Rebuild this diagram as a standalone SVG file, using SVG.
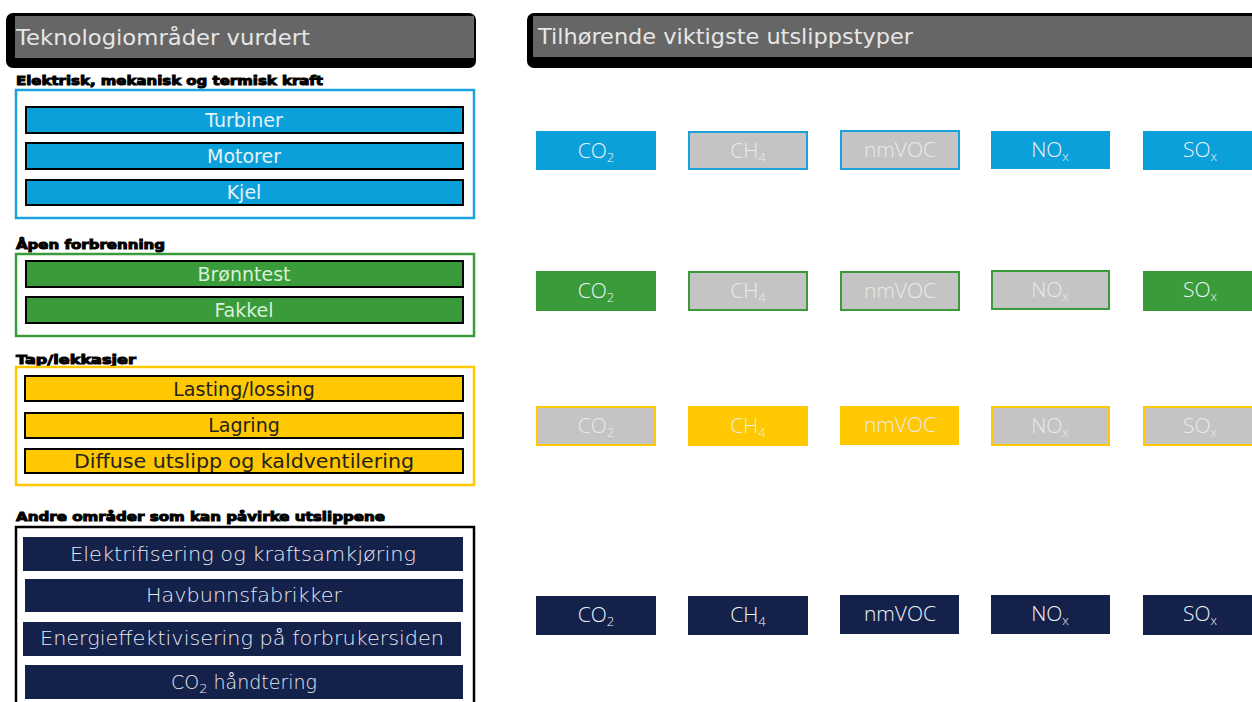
<svg xmlns="http://www.w3.org/2000/svg" width="1252" height="702" viewBox="0 0 1252 702">
<style>
.title{font-family:"DejaVu Sans",Verdana,sans-serif;font-size:22px;fill:#e6e6e6}
.head{font-family:"DejaVu Sans",Verdana,sans-serif;font-size:13px;font-weight:bold;fill:#000;stroke:#000;stroke-width:1}
.bar{stroke:#000;stroke-width:2}
.bt{font-family:"DejaVu Sans",Verdana,sans-serif;font-size:19px;text-anchor:middle}
.nt{font-family:"DejaVu Sans",Verdana,sans-serif;font-size:19px;text-anchor:middle;fill:#e8eaf0;font-weight:200}
.et{font-family:"Open Sans","DejaVu Sans",sans-serif;font-size:21px;text-anchor:middle;fill:#eef4f8;font-weight:300}
.eg{fill:#eaeaea}
.sub{font-size:13px}
.blue{fill:#0BA0D9}
.green{fill:#3A9B3A}
.yel{fill:#FFC800}
.navy{fill:#14214B}
.gray{fill:#C4C4C4}
</style>
<defs></defs>

<g id="title-left">
<rect x="6" y="13" width="470" height="55" rx="7" fill="#000"/>
<rect x="15" y="16" width="459" height="42" fill="#666"/>
<text class="title" x="16" y="45" textLength="294" lengthAdjust="spacingAndGlyphs">Teknologiområder vurdert</text>
</g>
<g id="title-right">
<rect x="527" y="13" width="740" height="55" rx="7" fill="#000"/>
<rect x="533" y="16" width="730" height="41" fill="#666"/>
<text class="title" x="538" y="44" textLength="375" lengthAdjust="spacingAndGlyphs">Tilhørende viktigste utslippstyper</text>
</g>

<g id="group-elektrisk">
<text class="head" x="16" y="85" textLength="307" lengthAdjust="spacingAndGlyphs">Elektrisk, mekanisk og termisk kraft</text>
<rect x="16" y="90" width="458" height="128" fill="none" stroke="#1BA1DB" stroke-width="2.5"/>
</g>
<g id="turbiner"><rect class="bar blue" x="26" y="107" width="437" height="26"/><text class="bt" x="244" y="127" fill="#e4f3fa">Turbiner</text></g>
<g id="motorer"><rect class="bar blue" x="26" y="143" width="437" height="26"/><text class="bt" x="244" y="163" fill="#e4f3fa">Motorer</text></g>
<g id="kjel"><rect class="bar blue" x="26" y="180" width="437" height="25"/><text class="bt" x="244" y="199" fill="#e4f3fa">Kjel</text></g>

<g id="group-apen">
<text class="head" x="16" y="249" textLength="149" lengthAdjust="spacingAndGlyphs">Åpen forbrenning</text>
<rect x="16" y="254" width="458" height="82" fill="none" stroke="#3A9B3A" stroke-width="2.5"/>
</g>
<g id="bronntest"><rect class="bar green" x="26" y="261" width="437" height="26"/><text class="bt" x="244" y="281" fill="#d8f0d8">Brønntest</text></g>
<g id="fakkel"><rect class="bar green" x="26" y="297" width="437" height="26"/><text class="bt" x="244" y="317" fill="#d8f0d8">Fakkel</text></g>

<g id="group-tap">
<text class="head" x="16" y="364" textLength="120" lengthAdjust="spacingAndGlyphs">Tap/lekkasjer</text>
<rect x="16" y="367" width="458" height="118" fill="none" stroke="#FFC800" stroke-width="2.5"/>
</g>
<g id="lasting"><rect class="bar yel" x="25" y="376" width="438" height="25"/><text class="bt" x="244" y="396" fill="#222">Lasting/lossing</text></g>
<g id="lagring"><rect class="bar yel" x="25" y="413" width="438" height="25"/><text class="bt" x="244" y="432" fill="#222">Lagring</text></g>
<g id="diffuse"><rect class="bar yel" x="25" y="449" width="438" height="24"/><text class="bt" x="244" y="468" fill="#222" textLength="340" lengthAdjust="spacingAndGlyphs">Diffuse utslipp og kaldventilering</text></g>

<g id="group-andre">
<text class="head" x="16" y="521" textLength="369" lengthAdjust="spacingAndGlyphs">Andre områder som kan påvirke utslippene</text>
<rect x="16" y="527" width="458" height="190" fill="none" stroke="#000" stroke-width="2.5"/>
</g>
<g id="elektrifisering"><rect class="navy" x="23" y="537" width="440" height="34"/><text class="nt" x="243" y="561" textLength="346" lengthAdjust="spacingAndGlyphs">Elektrifisering og kraftsamkjøring</text></g>
<g id="havbunn"><rect class="navy" x="25" y="579" width="438" height="33"/><text class="nt" x="244" y="602" textLength="196" lengthAdjust="spacingAndGlyphs">Havbunnsfabrikker</text></g>
<g id="energi"><rect class="navy" x="23" y="622" width="438" height="34"/><text class="nt" x="242" y="645" textLength="404" lengthAdjust="spacingAndGlyphs">Energieffektivisering på forbrukersiden</text></g>
<g id="co2h"><rect class="navy" x="25" y="665" width="438" height="34"/><text class="nt" x="244" y="689">CO<tspan class="sub" dy="4">2</tspan><tspan dy="-4"> håndtering</tspan></text></g>

<!-- Row 1 : blue -->
<g id="r1-co2"><rect class="blue" x="536" y="131" width="120" height="39"/><text class="et" x="596" y="158">CO<tspan class="sub" dy="4">2</tspan></text></g>
<g id="r1-ch4"><rect class="gray" x="689" y="132" width="118" height="37" stroke="#1BA1DB" stroke-width="2"/><text class="et eg" x="748" y="158">CH<tspan class="sub" dy="4">4</tspan></text></g>
<g id="r1-nmvoc"><rect class="gray" x="841" y="131" width="118" height="38" stroke="#1BA1DB" stroke-width="2"/><text class="et eg" x="900" y="157">nmVOC</text></g>
<g id="r1-nox"><rect class="blue" x="991" y="131" width="119" height="38"/><text class="et" x="1050" y="157">NO<tspan class="sub" dy="4">x</tspan></text></g>
<g id="r1-sox"><rect class="blue" x="1143" y="131" width="120" height="39"/><text class="et" x="1200" y="157">SO<tspan class="sub" dy="4">x</tspan></text></g>

<!-- Row 2 : green -->
<g id="r2-co2"><rect class="green" x="536" y="271" width="120" height="40"/><text class="et" x="596" y="298">CO<tspan class="sub" dy="4">2</tspan></text></g>
<g id="r2-ch4"><rect class="gray" x="689" y="272" width="118" height="38" stroke="#3A9B3A" stroke-width="2"/><text class="et eg" x="748" y="298">CH<tspan class="sub" dy="4">4</tspan></text></g>
<g id="r2-nmvoc"><rect class="gray" x="841" y="272" width="118" height="38" stroke="#3A9B3A" stroke-width="2"/><text class="et eg" x="900" y="298">nmVOC</text></g>
<g id="r2-nox"><rect class="gray" x="992" y="271" width="117" height="38" stroke="#3A9B3A" stroke-width="2"/><text class="et eg" x="1050" y="297">NO<tspan class="sub" dy="4">x</tspan></text></g>
<g id="r2-sox"><rect class="green" x="1143" y="271" width="120" height="40"/><text class="et" x="1200" y="297">SO<tspan class="sub" dy="4">x</tspan></text></g>

<!-- Row 3 : yellow -->
<g id="r3-co2"><rect class="gray" x="537" y="407" width="118" height="38" stroke="#FFC800" stroke-width="2"/><text class="et eg" x="596" y="433">CO<tspan class="sub" dy="4">2</tspan></text></g>
<g id="r3-ch4"><rect class="yel" x="688" y="406" width="120" height="40"/><text class="et eg" x="748" y="433">CH<tspan class="sub" dy="4">4</tspan></text></g>
<g id="r3-nmvoc"><rect class="yel" x="840" y="406" width="119" height="39"/><text class="et eg" x="900" y="432">nmVOC</text></g>
<g id="r3-nox"><rect class="gray" x="992" y="407" width="117" height="38" stroke="#FFC800" stroke-width="2"/><text class="et eg" x="1050" y="433">NO<tspan class="sub" dy="4">x</tspan></text></g>
<g id="r3-sox"><rect class="gray" x="1144" y="407" width="118" height="38" stroke="#FFC800" stroke-width="2"/><text class="et eg" x="1200" y="433">SO<tspan class="sub" dy="4">x</tspan></text></g>

<!-- Row 4 : navy -->
<g id="r4-co2"><rect class="navy" x="536" y="596" width="120" height="39"/><text class="et" x="596" y="622">CO<tspan class="sub" dy="4">2</tspan></text></g>
<g id="r4-ch4"><rect class="navy" x="688" y="596" width="120" height="39"/><text class="et" x="748" y="622">CH<tspan class="sub" dy="4">4</tspan></text></g>
<g id="r4-nmvoc"><rect class="navy" x="840" y="595" width="119" height="39"/><text class="et" x="900" y="621">nmVOC</text></g>
<g id="r4-nox"><rect class="navy" x="991" y="595" width="119" height="39"/><text class="et" x="1050" y="621">NO<tspan class="sub" dy="4">x</tspan></text></g>
<g id="r4-sox"><rect class="navy" x="1143" y="595" width="120" height="40"/><text class="et" x="1200" y="621">SO<tspan class="sub" dy="4">x</tspan></text></g>

<g id="connectors"></g>
</svg>
